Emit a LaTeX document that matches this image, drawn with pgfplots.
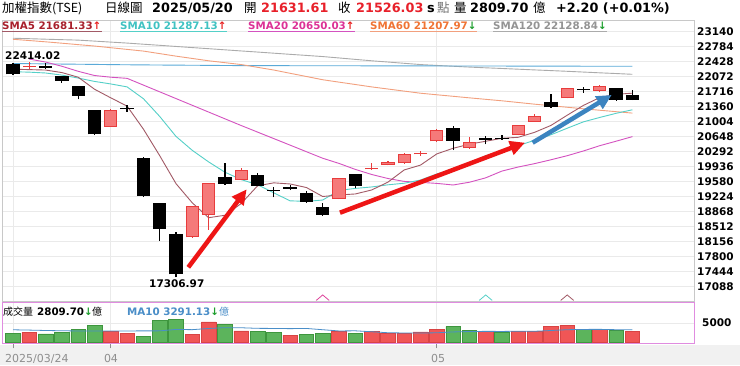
\documentclass[border=0pt]{standalone}
\usepackage{fontspec}
\setmainfont{DejaVu Sans}
\newfontfamily\cjk{Noto Sans CJK TC}
\usepackage{pgfplots}
\usepackage{pgfplotstable}
\pgfplotsset{compat=1.18}
\usetikzlibrary{arrows.meta}

\definecolor{framegray}{HTML}{C8C8C8}
\definecolor{gridgray}{HTML}{EAEAEA}
\definecolor{botgray}{HTML}{F1F1F1}
\definecolor{volpink}{HTML}{E08CE0}
\definecolor{cfill}{HTML}{F57A7A}
\definecolor{cborder}{HTML}{E83C3C}
\definecolor{vred}{HTML}{F05656}
\definecolor{vredb}{HTML}{D84444}
\definecolor{vgreen}{HTML}{5CB45C}
\definecolor{vgreenb}{HTML}{3E963E}
\definecolor{cs5}{HTML}{A25A66}
\definecolor{ts5}{HTML}{A8202C}
\definecolor{cs10}{HTML}{55D0C8}
\definecolor{ts10}{HTML}{40C2C2}
\definecolor{cs20}{HTML}{D452C0}
\definecolor{ts20}{HTML}{DC3296}
\definecolor{cs60}{HTML}{F2A07E}
\definecolor{ts60}{HTML}{F07434}
\definecolor{cs120}{HTML}{ABABAB}
\definecolor{ts120}{HTML}{949494}
\definecolor{cs240}{HTML}{5AAAD8}
\definecolor{volma}{HTML}{4A8EC8}
\definecolor{upred}{HTML}{E82020}
\definecolor{dngreen}{HTML}{1E9E2E}
\definecolor{numred}{HTML}{E8202A}
\definecolor{arrred}{HTML}{EE1515}
\definecolor{arrblue}{HTML}{3C84C0}
\definecolor{datgray}{HTML}{8E8E8E}

\pgfplotstableread{
i o h l c
1 22300 22414.02 22245 22310
6 20886 21305 20880 21282
11 18260 19010 18255 19003
12 18790 19545 18434 19541
14 19620 19897 19610 19858
20 19169 19665 19165 19660
22 19870 20016 19865 19880
23 19976 20079 19970 20039
24 20016 20250 20010 20237
25 20230 20317 20190 20237
26 20538 20820 20520 20807
28 20372 20633 20365 20530
31 20688 20935 20680 20926
32 21005 21187 21000 21139
34 21559 21800 21555 21796
36 21733 21875 21700 21851
}\redc

\pgfplotstableread{
i o h l c
0 22365 22390 22110 22128
2 22326 22397 22255 22278
3 22096 22100 21930 21970
4 21851 21855 21535 21614
5 21274 21280 20700 20704
7 21313 21392 21242 21300
8 20150 20155 19225 19240
9 19067 19070 18180 18465
10 18339 18378 17306.97 17382
13 19684 20016 19510 19526
15 19739 19779 19470 19478
16 19375 19462 19209 19360
17 19420 19510 19383 19410
18 19320 19359 19083 19106
19 18988 19067 18775 18790
21 19763 19765 19423 19478
27 20862 20902 20332 20546
29 20590 20665 20467 20580
30 20595 20689 20580 20586
33 21480 21653 21340 21345
35 21765 21835 21693 21755
37 21796 21800 21503 21523.83
38 21631.61 21756 21519 21526.03
}\blackc

\pgfplotstableread{
i s5 s10 s60 s120 s240
0 22250 22190 22960 22985 22385
1 22240 22180 22930 22974 22381
2 22230 22160 22900 22962 22376
3 22170 22110 22867 22951 22372
4 22060 22040 22833 22940 22368
5 21775 21960 22800 22917 22364
6 21570 21900 22760 22893 22359
7 21374 21830 22720 22870 22355
8 20828 21550 22680 22843 22352
9 20198 21129 22620 22817 22349
10 19534 20655 22560 22790 22346
11 19078 20324 22505 22763 22344
12 18726 20050 22450 22737 22341
13 18783 19806 22405 22710 22338
14 19062 19630 22360 22683 22335
15 19481 19508 22295 22657 22334
16 19553 19315 22230 22630 22334
17 19526 19126 22153 22603 22333
18 19442 19113 22077 22577 22333
19 19229 19145 22000 22550 22332
20 19265 19373 21943 22517 22331
21 19289 19421 21887 22483 22331
22 19383 19455 21830 22450 22330
23 19569 19506 21780 22420 22329
24 19859 19544 21730 22390 22329
25 19974 19620 21680 22360 22328
26 20240 19764 21643 22340 22327
27 20373 19878 21607 22320 22327
28 20471 20020 21570 22300 22326
29 20540 20199 21535 22283 22325
30 20610 20292 21500 22267 22325
31 20634 20437 21460 22250 22324
32 20752 20563 21420 22233 22323
33 20915 20693 21383 22217 22323
34 21158 20849 21347 22200 22322
35 21392 21001 21310 22182 22321
36 21577 21105 21276 22164 22321
37 21654 21203 21242 22147 22320
38 21681 21287 21208 22129 22320
}\smas

\pgfplotstableread{
i s20
1 22490
2 22420
3 22320
4 22200
5 22100
6 22060
7 22033
8 21873
9 21713
10 21553
11 21393
12 21233
13 21073
14 20913
15 20758
16 20603
17 20448
18 20292
19 20137
20 20014
21 19872
22 19752
23 19656
24 19587
25 19564
26 19540
27 19502
28 19567
29 19672
30 19833
31 19929
32 20009
33 20100
34 20197
35 20310
36 20435
37 20541
38 20650
}\smatw

\pgfplotstableread{
i v
1 2586
6 2845
7 2414
11 2069
12 5258
14 3017
17 1896
20 2845
22 2845
23 2327
24 2327
25 2758
26 3276
29 2845
31 2845
32 2845
33 4224
34 4396
36 3448
38 2809.70
}\volred

\pgfplotstableread{
i v
0 2414
2 2241
3 2672
4 3276
5 4396
8 1552
9 5689
10 5948
13 4741
15 2931
16 2586
18 2069
19 2414
21 2414
27 4051
28 3103
30 2672
35 3448
37 3189
}\volgreen

\pgfplotstableread{
i m
0 3280
1 3200
2 3100
3 3030
4 2980
5 2950
6 2960
7 2990
8 3000
9 3009
10 3362
11 3310
12 3612
13 3819
14 3793
15 3646
16 3621
17 3569
18 3620
19 3293
20 2983
21 3017
22 2776
23 2534
24 2465
25 2448
26 2517
27 2733
28 2836
29 2879
30 2862
31 2905
32 2905
33 3095
34 3302
35 3371
36 3388
37 3302
38 3291
}\volma

\pgfplotsset{
  candle/.style 2 args={only marks, mark=text, text mark={}, forget plot,
    error bars/y dir=plus, error bars/y explicit, error bars/error mark=none,
    error bars/error bar style={line width=#1, draw=#2}},
}

\begin{document}
\begin{tikzpicture}
\path[use as bounding box] (0pt,0pt) rectangle (740pt,365pt);
\fill[white] (0pt,0pt) rectangle (740pt,365pt);
\fill[botgray] (0pt,0pt) rectangle (740pt,20.5pt);

% ---------- main price panel ----------
\begin{axis}[
  at={(2pt,64pt)}, anchor=south west, scale only axis,
  width=692pt, height=280.5pt,
  xmin=-0.6748, xmax=41.779, ymin=16748.7, ymax=23405.8,
  axis line style={draw=framegray, line width=0.8pt},
  xtick={0,6,26}, xticklabels={}, major tick length=0pt,
  xmajorgrids, ymajorgrids,
  grid style={draw=gridgray, line width=0.7pt},
  scaled y ticks=false, scaled x ticks=false,
  ytick={17088,17444,17800,18156,18512,18868,19224,19580,19936,20292,20648,21004,21360,21716,22072,22428,22784,23140},
  yticklabels={17088,17444,17800,18156,18512,18868,19224,19580,19936,20292,20648,21004,21360,21716,22072,22428,22784,23140},
  yticklabel pos=right,
  yticklabel style={anchor=west, inner sep=0pt, xshift=3pt, font=\fontsize{10.5}{12}\selectfont\bfseries},
  clip=false,
]
% moving averages
\addplot[cs120, line width=0.9pt, forget plot] table[x=i, y=s120] {\smas};
\addplot[cs240, line width=0.9pt, forget plot] table[x=i, y=s240] {\smas};
\addplot[cs60, line width=0.9pt, forget plot] table[x=i, y=s60] {\smas};
\addplot[cs20, line width=0.9pt, forget plot] table[x=i, y=s20] {\smatw};
\addplot[cs10, line width=0.9pt, forget plot] table[x=i, y=s10] {\smas};
\addplot[cs5, line width=0.9pt, forget plot] table[x=i, y=s5] {\smas};

% wicks
\addplot[black, candle={1.2pt}{black}]
  table[x=i, y=l, y error plus expr={\thisrow{h}-\thisrow{l}}] {\blackc};
\addplot[cborder, candle={1.2pt}{cborder}]
  table[x=i, y=l, y error plus expr={\thisrow{h}-\thisrow{l}}] {\redc};
% bodies
\addplot[black, candle={13.3pt}{black}]
  table[x=i, y expr={min(\thisrow{o},\thisrow{c})}, y error plus expr={max(abs(\thisrow{c}-\thisrow{o}),34)}] {\blackc};
\addplot[cborder, candle={13.3pt}{cborder}]
  table[x=i, y expr={min(\thisrow{o},\thisrow{c})}, y error plus expr={max(abs(\thisrow{c}-\thisrow{o}),34)}] {\redc};
\addplot[cfill, candle={11.3pt}{cfill}]
  table[x=i, y expr={min(\thisrow{o},\thisrow{c})+24}, y error plus expr={max(abs(\thisrow{c}-\thisrow{o})-48,0)}] {\redc};

% crossing markers
\addplot[cs20!80!red, line width=0.8pt, forget plot] coordinates {(18.6,16762) (19,16892) (19.4,16762)};
\addplot[cs10, line width=0.8pt, forget plot] coordinates {(28.6,16762) (29,16892) (29.4,16762)};
\addplot[cs5, line width=0.8pt, forget plot] coordinates {(33.6,16762) (34,16892) (34.4,16762)};

% trend arrows
\draw[arrred, line width=4.5pt, -{Triangle[length=15pt,width=14pt]}] (axis cs:10.755,17548) -- (axis cs:14.337,19400);
\draw[arrred, line width=4.5pt, -{Triangle[length=15pt,width=14pt]}] (axis cs:20.06,18844) -- (axis cs:31.41,20506);
\draw[arrblue, line width=4.5pt, -{Triangle[length=15pt,width=14pt]}] (axis cs:31.88,20506) -- (axis cs:36.73,21638);
\end{axis}

% ---------- volume panel ----------
\begin{axis}[
  at={(2pt,21.7pt)}, anchor=south west, scale only axis,
  width=692pt, height=40.6pt,
  xmin=-0.6748, xmax=41.779, ymin=-152, ymax=10152,
  axis line style={draw=volpink, line width=0.9pt},
  scaled y ticks=false, scaled x ticks=false,
  xtick={0,6,26}, xticklabels={},
  tick align=outside, major tick length=5pt,
  xtick pos=bottom,
  xtick style={draw=datgray, line width=0.8pt},
  ytick={5000}, yticklabels={5000}, ytick style={draw=none},
  yticklabel pos=right,
  yticklabel style={anchor=west, inner sep=0pt, xshift=3pt, font=\fontsize{10.5}{12}\selectfont\bfseries},
  xmajorgrids, ymajorgrids,
  grid style={draw=gridgray, line width=0.7pt},
  clip=false,
]
\addplot[ybar, bar width=14.6pt, bar shift=0pt, fill=vred, draw=vredb, line width=0.6pt, forget plot] table[x=i, y=v] {\volred};
\addplot[ybar, bar width=14.6pt, bar shift=0pt, fill=vgreen, draw=vgreenb, line width=0.6pt, forget plot] table[x=i, y=v] {\volgreen};
\addplot[volma, line width=0.8pt, forget plot] table[x=i, y=m] {\volma};
\end{axis}

% ---------- header ----------
\tikzset{T/.style={anchor=base west, inner sep=0pt}}
\node[T, font=\cjk\fontsize{12.5}{14}\selectfont] at (2pt,352pt) {加權指數(TSE)};
\node[T, font=\cjk\fontsize{12.5}{14}\selectfont] at (105pt,352pt) {日線圖};
\node[T, font=\fontsize{12.8}{14}\selectfont\bfseries] at (152pt,352pt) {2025/05/20};
\node[T, font=\cjk\fontsize{12.5}{14}\selectfont] at (244pt,352pt) {開};
\node[T, font=\fontsize{12.8}{14}\selectfont\bfseries, text=numred] at (261pt,352pt) {21631.61};
\node[T, font=\cjk\fontsize{12.5}{14}\selectfont] at (338pt,352pt) {收};
\node[T, font=\fontsize{12.8}{14}\selectfont\bfseries, text=numred] at (356pt,352pt) {21526.03};
\node[T, font=\fontsize{12.8}{14}\selectfont\bfseries] at (427pt,352pt) {s};
\node[T, font=\cjk\fontsize{12.5}{14}\selectfont, text=black!55] at (437pt,352pt) {點};
\node[T, font=\cjk\fontsize{12.5}{14}\selectfont] at (454pt,352pt) {量};
\node[T, font=\fontsize{12.8}{14}\selectfont\bfseries] at (470pt,352pt) {2809.70};
\node[T, font=\cjk\fontsize{12.5}{14}\selectfont] at (533pt,352pt) {億};
\node[T, font=\fontsize{12.8}{14}\selectfont\bfseries] at (556pt,352pt) {+2.20 (+0.01\%)};

% ---------- MA legend ----------
\tikzset{L/.style={anchor=base west, inner sep=0pt, font=\fontsize{10.3}{12}\selectfont\bfseries}}
\node[L, text=ts5] (l1) at (2pt,335pt) {SMA5 21681.33\textcolor{upred}{↑}};
\node[L, text=ts10] (l2) at (120pt,335pt) {SMA10 21287.13\textcolor{upred}{↑}};
\node[L, text=ts20] (l3) at (248pt,335pt) {SMA20 20650.03\textcolor{upred}{↑}};
\node[L, text=ts60] (l4) at (370pt,335pt) {SMA60 21207.97\textcolor{dngreen}{↓}};
\node[L, text=ts120] (l5) at (493pt,335pt) {SMA120 22128.84\textcolor{dngreen}{↓}};
\foreach \n/\c in {l1/cs5,l2/cs10,l3/cs20,l4/cs60,l5/cs120}
  \draw[\c, line width=1pt] ([yshift=-2pt]\n.base west) -- ([yshift=-2pt]\n.base east);

% ---------- price extremes ----------
\node[T, font=\fontsize{10.5}{12}\selectfont\bfseries] at (5pt,305.5pt) {22414.02};
\node[T, font=\fontsize{10.5}{12}\selectfont\bfseries] at (149pt,78pt) {17306.97};

% ---------- volume legend ----------
\node[T, font=\cjk\fontsize{10}{12}\selectfont] at (3pt,50pt) {成交量};
\node[T, font=\fontsize{10.3}{12}\selectfont\bfseries] at (37pt,50pt) {2809.70\textcolor{dngreen}{↓}};
\node[T, font=\cjk\fontsize{10}{12}\selectfont] at (92pt,50pt) {億};
\node[T, font=\fontsize{10.3}{12}\selectfont\bfseries, text=volma] at (127pt,50pt) {MA10 3291.13\textcolor{dngreen}{↓}};
\node[T, font=\cjk\fontsize{10}{12}\selectfont, text=volma] at (219pt,50pt) {億};

% ---------- date labels ----------
\node[T, font=\fontsize{11}{12}\selectfont, text=datgray] at (5pt,2.5pt) {2025/03/24};
\node[anchor=base, inner sep=0pt, font=\fontsize{11}{12}\selectfont, text=datgray] at (111pt,2.5pt) {04};
\node[anchor=base, inner sep=0pt, font=\fontsize{11}{12}\selectfont, text=datgray] at (438pt,2.5pt) {05};
\end{tikzpicture}
\end{document}
